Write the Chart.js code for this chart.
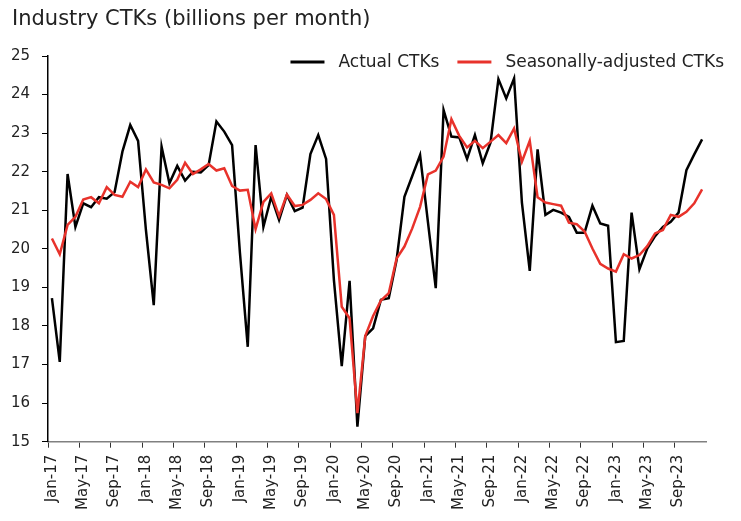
<!DOCTYPE html>
<html>
<head>
<meta charset="utf-8">
<script src="https://cdn.jsdelivr.net/npm/chart.js@4.4.1/dist/chart.umd.min.js"></script>
<style>
html, body { margin: 0; padding: 0; background: #fff; }
#wrap { width: 741px; height: 521px; }
</style>
</head>
<body>
<div id="wrap"><canvas id="ctks" width="741" height="521"></canvas></div>
<script>
// monthly categories, Jan-17 .. Dec-23
var months = [
	'Jan-17', 'Feb-17', 'Mar-17', 'Apr-17', 'May-17', 'Jun-17', 'Jul-17', 'Aug-17', 'Sep-17', 'Oct-17', 'Nov-17', 'Dec-17',
	'Jan-18', 'Feb-18', 'Mar-18', 'Apr-18', 'May-18', 'Jun-18', 'Jul-18', 'Aug-18', 'Sep-18', 'Oct-18', 'Nov-18', 'Dec-18',
	'Jan-19', 'Feb-19', 'Mar-19', 'Apr-19', 'May-19', 'Jun-19', 'Jul-19', 'Aug-19', 'Sep-19', 'Oct-19', 'Nov-19', 'Dec-19',
	'Jan-20', 'Feb-20', 'Mar-20', 'Apr-20', 'May-20', 'Jun-20', 'Jul-20', 'Aug-20', 'Sep-20', 'Oct-20', 'Nov-20', 'Dec-20',
	'Jan-21', 'Feb-21', 'Mar-21', 'Apr-21', 'May-21', 'Jun-21', 'Jul-21', 'Aug-21', 'Sep-21', 'Oct-21', 'Nov-21', 'Dec-21',
	'Jan-22', 'Feb-22', 'Mar-22', 'Apr-22', 'May-22', 'Jun-22', 'Jul-22', 'Aug-22', 'Sep-22', 'Oct-22', 'Nov-22', 'Dec-22',
	'Jan-23', 'Feb-23', 'Mar-23', 'Apr-23', 'May-23', 'Jun-23', 'Jul-23', 'Aug-23', 'Sep-23', 'Oct-23', 'Nov-23', 'Dec-23'
];

// billions of CTKs per month
var actualCtks = [
	18.72, 17.07, 21.94, 20.57, 21.18, 21.08, 21.34, 21.30, 21.47, 22.52, 23.21, 22.80,
	20.49, 18.54, 22.65, 21.70, 22.15, 21.77, 22.00, 21.98, 22.17, 23.30, 23.04, 22.69,
	19.90, 17.46, 22.69, 20.57, 21.35, 20.75, 21.40, 20.98, 21.07, 22.46, 22.95, 22.33,
	19.19, 16.96, 19.17, 15.39, 17.74, 17.94, 18.68, 18.72, 19.71, 21.35, 21.89, 22.43,
	20.70, 18.98, 23.60, 22.91, 22.89, 22.33, 22.95, 22.22, 22.76, 24.40, 23.90, 24.42,
	21.20, 19.43, 22.58, 20.88, 21.01, 20.94, 20.83, 20.42, 20.42, 21.12, 20.66, 20.60,
	17.58, 17.61, 20.94, 19.47, 20.01, 20.33, 20.57, 20.70, 20.94, 22.04, 22.45, 22.84
];

var seasonalCtks = [
	20.27, 19.86, 20.62, 20.83, 21.28, 21.34, 21.18, 21.60, 21.40, 21.35, 21.74, 21.60,
	22.06, 21.72, 21.66, 21.57, 21.79, 22.23, 21.94, 22.06, 22.20, 22.03, 22.09, 21.63,
	21.51, 21.53, 20.51, 21.22, 21.44, 20.85, 21.41, 21.11, 21.14, 21.27, 21.44, 21.29,
	20.88, 18.50, 18.20, 15.74, 17.74, 18.26, 18.66, 18.85, 19.75, 20.06, 20.53, 21.09,
	21.93, 22.03, 22.39, 23.36, 22.93, 22.63, 22.80, 22.61, 22.78, 22.95, 22.74, 23.12,
	22.26, 22.80, 21.34, 21.20, 21.16, 21.12, 20.68, 20.64, 20.45, 20.01, 19.61, 19.49,
	19.41, 19.86, 19.75, 19.84, 20.07, 20.40, 20.49, 20.88, 20.83, 20.96, 21.18, 21.54
];

var seriesNames = ['Actual CTKs', 'Seasonally-adjusted CTKs'];
var yMin = 15, yMax = 25, yStep = 1;
var labelEvery = 4;

var FONT = '"DejaVu Sans", sans-serif';
var TEXT = '#222222';

/* legend drawn inside the plot, top right */
var insideLegend = {
	id: 'insideLegend',
	afterDraw: function (chart) {
		var ctx = chart.ctx;
		var sets = chart.data.datasets;
		var x = 724, y = 62;
		ctx.save();
		ctx.font = '17px ' + FONT;
		ctx.textBaseline = 'middle';
		for (var i = sets.length - 1; i >= 0; i--) {
			x -= ctx.measureText(sets[i].label).width;
			ctx.fillStyle = TEXT;
			ctx.fillText(sets[i].label, x, y + 1);
			x -= 14;
			ctx.strokeStyle = sets[i].borderColor;
			ctx.lineWidth = 3;
			ctx.beginPath();
			ctx.moveTo(x - 34, y);
			ctx.lineTo(x, y);
			ctx.stroke();
			x -= 34 + 18;
		}
		ctx.restore();
	}
};

new Chart(document.getElementById('ctks'), {
	type: 'line',
	data: {
		labels: months,
		datasets: [{
			label: seriesNames[0],
			data: actualCtks,
			borderColor: '#000000',
			borderWidth: 2.5,
			pointRadius: 0,
			tension: 0,
			order: 1
		}, {
			label: seriesNames[1],
			data: seasonalCtks,
			borderColor: '#e8322b',
			borderWidth: 2.5,
			pointRadius: 0,
			tension: 0,
			order: 0
		}]
	},
	options: {
		responsive: false,
		animation: false,
		layout: { padding: { left: 12, right: 35, top: 0, bottom: 0 } },
		plugins: {
			legend: { display: false },
			tooltip: { enabled: false },
			title: {
				display: true,
				text: 'Industry CTKs (billions per month)',
				align: 'start',
				color: TEXT,
				font: { family: FONT, size: 21, weight: 'normal', lineHeight: 1.2 },
				padding: { top: 7, bottom: 23.8 }
			}
		},
		scales: {
			x: {
				offset: true,
				grid: {
					offset: true,
					drawOnChartArea: false,
					tickLength: 6,
					tickColor: function (c) { return c.index % labelEvery === 0 ? '#333333' : 'rgba(0,0,0,0)'; }
				},
				border: { color: '#808080', width: 1.5 },
				ticks: {
					autoSkip: false,
					minRotation: 90,
					maxRotation: 90,
					padding: 7,
					color: TEXT,
					font: { family: FONT, size: 15 },
					callback: function (v, i) { return i % labelEvery === 0 ? this.getLabelForValue(v) : ''; }
				},
				afterFit: function (s) { s.height = 79.3; }
			},
			y: {
				min: yMin,
				max: yMax,
				grid: { drawOnChartArea: false, tickLength: 6, tickColor: '#000000' },
				border: { color: '#000000', width: 1.5 },
				ticks: {
					stepSize: yStep,
					padding: 12,
					color: TEXT,
					font: { family: FONT, size: 15 }
				},
				afterFit: function (s) { s.width = 36; }
			}
		}
	},
	plugins: [insideLegend]
});
</script>
</body>
</html>
